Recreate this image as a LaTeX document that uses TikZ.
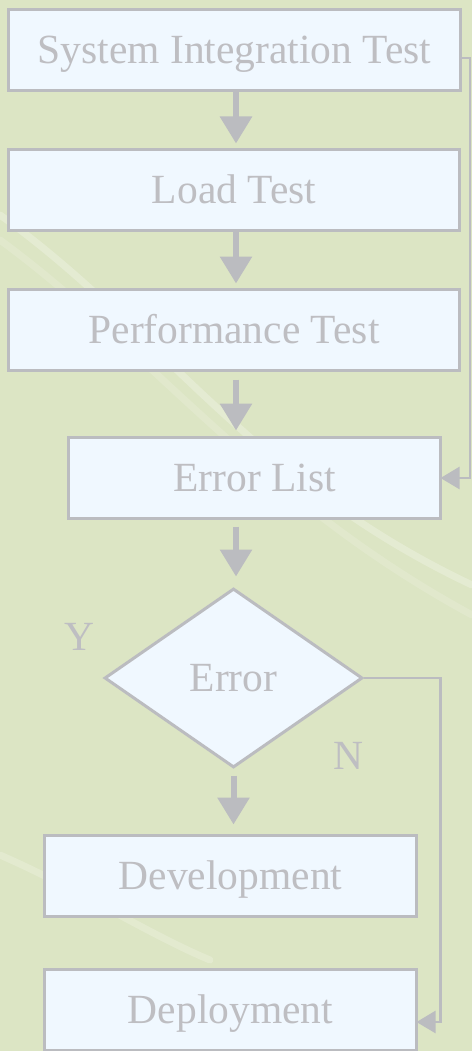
\documentclass[tikz,border=0pt]{standalone}
\usepackage{fontspec}
\setmainfont{Liberation Serif}
\usetikzlibrary{arrows.meta,shapes.geometric}
\definecolor{bggreen}{RGB}{220,229,196}
\definecolor{boxblue}{RGB}{240,248,255}
\definecolor{linegray}{RGB}{187,188,192}
\definecolor{textgray}{RGB}{190,190,194}

\begin{document}
\begin{tikzpicture}[
  x=1pt, y=-1pt,
  every node/.style = {text=textgray,
    font=\fontsize{41.5}{41.5}\selectfont},
  box/.style = {draw=linegray, line width=3pt, fill=boxblue,
    minimum height=81pt, inner sep=0pt,
    text height=27pt, text depth=0pt},
  decision/.style = {diamond, draw=linegray, line width=3pt,
    fill=boxblue, minimum width=258pt, minimum height=179pt,
    inner sep=0pt, text height=27pt, text depth=0pt},
  flow/.style = {draw=linegray, line width=6pt,
    -{Triangle[width=31pt,length=27pt]}},
  back/.style = {draw=linegray, line width=2.5pt,
    -{Triangle[width=22pt,length=19pt]}},
  swoosh/.style = {draw=white, opacity=0.25, line width=7pt,
    line cap=round}]

  \fill[bggreen] (0,0) rectangle (472,1051);
  \useasboundingbox (0,0) rectangle (472,1051);
  \draw[swoosh] (0,215) .. controls (160,330) and (250,480) .. (472,585);
  \draw[swoosh, opacity=0.15] (0,240) .. controls (150,350) and (260,500) .. (472,615);
  \draw[swoosh, opacity=0.2] (0,855) .. controls (80,890) and (150,935) .. (210,960);

  \coordinate (axis) at (236,0);

  \node[box, minimum width=452pt] (sit) at (234.5,50) {System Integration Test};
  \node[box, minimum width=451pt] (load) at (234,190) {Load Test};
  \node[box, minimum width=451pt] (perf) at (234,330) {Performance Test};
  \node[box, minimum width=372pt] (err) at (254.5,478) {Error List};
  \node[decision] (dec) at (233.5,678) {Error};
  \node[box, minimum width=372pt] (dev) at (230.5,876) {Development};
  \node[box, minimum width=372pt] (dep) at (230.5,1010) {Deployment};
  \node (yes) at (79,637) {Y};
  \node (no) at (348,756) {N};

  \draw[flow, shorten >=4.5pt] (sit.south -| axis) -- (load.north -| axis);
  \draw[flow, shorten >=4.5pt] (load.south -| axis) -- (perf.north -| axis);
  \draw[flow, shorten <=7.5pt, shorten >=5.5pt] (perf.south -| axis) -- (err.north -| axis);
  \draw[flow, shorten <=6.5pt, shorten >=10.5pt] (err.south -| axis) -- (dec.north -| axis);
  \draw[flow, shorten <=6.5pt, shorten >=9.5pt] (dec.south) -- (dec.south |- dev.north);
  \draw[back, shorten >=-1.5pt] ([yshift=-8pt]sit.east) -- ++(8,0) |- (err.east);
  \draw[back, shorten >=-1.5pt] (dec.east) -- ++(76.5,0) |- ([yshift=-12pt]dep.east);
\end{tikzpicture}
\end{document}
